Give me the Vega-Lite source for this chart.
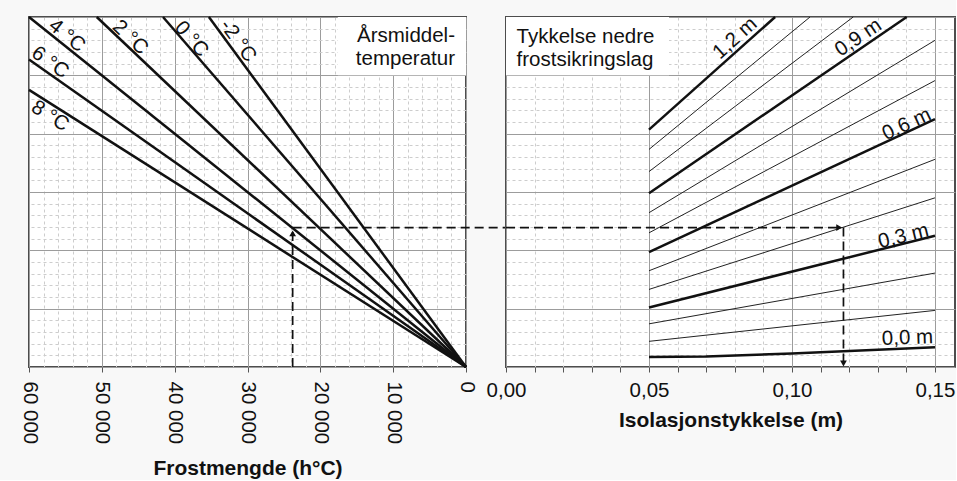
{
  "$schema": "https://vega.github.io/schema/vega-lite/v6.json",
  "background": "#f8f8f8",
  "padding": {"left": 17, "top": 11, "right": 0, "bottom": 0},
  "spacing": 40,
  "bounds": "flush",
  "datasets": {
    "tempLines": [
      {"t": "8", "x": 0, "y": 0}, {"t": "8", "x": 60000, "y": 4.75},
      {"t": "6", "x": 0, "y": 0}, {"t": "6", "x": 60000, "y": 5.27},
      {"t": "4", "x": 0, "y": 0}, {"t": "4", "x": 60000, "y": 6},
      {"t": "2", "x": 0, "y": 0}, {"t": "2", "x": 50700, "y": 6},
      {"t": "0", "x": 0, "y": 0}, {"t": "0", "x": 41600, "y": 6},
      {"t": "-2", "x": 0, "y": 0}, {"t": "-2", "x": 35300, "y": 6}
    ],
    "tempLabels": [
      {"label": "4 °C", "x": 54800, "y": 5.68},
      {"label": "2 °C", "x": 46100, "y": 5.65},
      {"label": "0 °C", "x": 37700, "y": 5.62},
      {"label": "-2 °C", "x": 31300, "y": 5.59},
      {"label": "6 °C", "x": 57100, "y": 5.22},
      {"label": "8 °C", "x": 57100, "y": 4.30}
    ],
    "leftDash": [
      {"seg": "v", "x": 23800, "y": 0}, {"seg": "v", "x": 23800, "y": 2.33},
      {"seg": "h", "x": 23800, "y": 2.39}, {"seg": "h", "x": -5500, "y": 2.39}
    ],
    "thick": [
      {"d": 0.0, "x": 0.05, "y": 0.17}, {"d": 0.0, "x": 0.07, "y": 0.18}, {"d": 0.0, "x": 0.10, "y": 0.23}, {"d": 0.0, "x": 0.15, "y": 0.34},
      {"d": 0.1, "x": 0.05, "y": 0.44}, {"d": 0.1, "x": 0.15, "y": 0.97},
      {"d": 0.2, "x": 0.05, "y": 0.74}, {"d": 0.2, "x": 0.15, "y": 1.61},
      {"d": 0.3, "x": 0.05, "y": 1.02}, {"d": 0.3, "x": 0.15, "y": 2.25},
      {"d": 0.4, "x": 0.05, "y": 1.33}, {"d": 0.4, "x": 0.15, "y": 2.90},
      {"d": 0.5, "x": 0.05, "y": 1.65}, {"d": 0.5, "x": 0.15, "y": 3.56},
      {"d": 0.6, "x": 0.05, "y": 1.97}, {"d": 0.6, "x": 0.15, "y": 4.25},
      {"d": 0.7, "x": 0.05, "y": 2.30}, {"d": 0.7, "x": 0.15, "y": 4.91},
      {"d": 0.8, "x": 0.05, "y": 2.645}, {"d": 0.8, "x": 0.15, "y": 5.60},
      {"d": 0.9, "x": 0.05, "y": 2.98}, {"d": 0.9, "x": 0.1401, "y": 6},
      {"d": 1.0, "x": 0.05, "y": 3.35}, {"d": 1.0, "x": 0.1214, "y": 6},
      {"d": 1.1, "x": 0.05, "y": 3.73}, {"d": 1.1, "x": 0.1063, "y": 6},
      {"d": 1.2, "x": 0.05, "y": 4.07}, {"d": 1.2, "x": 0.0941, "y": 6}
    ],
    "thickLabels": [
      {"label": "1,2 m", "x": 0.0801, "y": 5.635},
      {"label": "0,9 m", "x": 0.1232, "y": 5.646},
      {"label": "0,6 m", "x": 0.1401, "y": 4.16},
      {"label": "0,3 m", "x": 0.139, "y": 2.24},
      {"label": "0,0 m", "x": 0.1404, "y": 0.497}
    ],
    "rightDash": [
      {"seg": "h", "x": 0, "y": 2.39}, {"seg": "h", "x": 0.1165, "y": 2.39},
      {"seg": "v", "x": 0.118, "y": 2.39}, {"seg": "v", "x": 0.118, "y": 0.1}
    ]
  },
  "hconcat": [
    {
      "width": 437,
      "height": 350,
      "encoding": {
        "x": {
          "field": "x", "type": "quantitative",
          "scale": {"domain": [0, 60000], "reverse": true, "nice": false, "zero": false},
          "axis": {
            "title": "Frostmengde (h°C)",
            "values": [0,2000,4000,6000,8000,10000,12000,14000,16000,18000,20000,22000,24000,26000,28000,30000,32000,34000,36000,38000,40000,42000,44000,46000,48000,50000,52000,54000,56000,58000,60000],
            "labelExpr": "datum.value % 10000 === 0 ? replace(format(datum.value, ','), ',', ' ') : ''",
            "labelAngle": 90,
            "labelAlign": "left",
            "labelBaseline": "middle",
            "labelPadding": 9,
            "titlePadding": 14,
            "tickOpacity": {"condition": {"test": "datum.value % 10000 === 0", "value": 1}, "value": 0},
            "gridDash": {"condition": {"test": "datum.value % 10000 === 0", "value": []}, "value": [3, 3]},
            "gridColor": {"condition": {"test": "datum.value % 10000 === 0", "value": "#9c9c9c"}, "value": "#cdcdcd"}
          }
        },
        "y": {
          "field": "y", "type": "quantitative",
          "scale": {"domain": [0, 6], "nice": false, "zero": false},
          "axis": {
            "title": null, "labels": false, "ticks": false, "domain": false,
            "values": [0,0.2,0.4,0.6,0.8,1,1.2,1.4,1.6,1.8,2,2.2,2.4,2.6,2.8,3,3.2,3.4,3.6,3.8,4,4.2,4.4,4.6,4.8,5,5.2,5.4,5.6,5.8,6],
            "gridDash": {"condition": {"test": "abs(datum.value - round(datum.value)) < 0.01", "value": []}, "value": [3, 3]},
            "gridColor": {"condition": {"test": "abs(datum.value - round(datum.value)) < 0.01", "value": "#9c9c9c"}, "value": "#cdcdcd"}
          }
        }
      },
      "layer": [
        {
          "data": {"values": [{"x": 17600, "x2": 0, "y": 5, "y2": 6}]},
          "mark": {"type": "rect", "fill": "white", "stroke": null},
          "encoding": {"x2": {"field": "x2"}, "y2": {"field": "y2"}}
        },
        {
          "data": {"name": "tempLines"},
          "mark": {"type": "line", "color": "#111111", "strokeWidth": 2.5},
          "encoding": {"detail": {"field": "t"}}
        },
        {
          "data": {"name": "leftDash"},
          "mark": {"type": "line", "color": "#111111", "strokeWidth": 1.7, "strokeDash": [9, 5]},
          "encoding": {"detail": {"field": "seg"}}
        },
        {
          "data": {"values": [{"x": 23800, "y": 2.29}]},
          "mark": {"type": "point", "shape": "triangle-up", "filled": true, "color": "#111111", "size": 45, "opacity": 1}
        },
        {
          "data": {"name": "tempLabels"},
          "transform": [{"filter": "datum.label === '4 °C'"}],
          "mark": {"type": "text", "angle": 38.7, "fontSize": 20.5, "color": "#111111"},
          "encoding": {"text": {"field": "label"}}
        },
        {
          "data": {"name": "tempLabels"},
          "transform": [{"filter": "datum.label === '2 °C'"}],
          "mark": {"type": "text", "angle": 43.5, "fontSize": 20.5, "color": "#111111"},
          "encoding": {"text": {"field": "label"}}
        },
        {
          "data": {"name": "tempLabels"},
          "transform": [{"filter": "datum.label === '0 °C'"}],
          "mark": {"type": "text", "angle": 49.1, "fontSize": 20.5, "color": "#111111"},
          "encoding": {"text": {"field": "label"}}
        },
        {
          "data": {"name": "tempLabels"},
          "transform": [{"filter": "datum.label === '-2 °C'"}],
          "mark": {"type": "text", "angle": 53.7, "fontSize": 20.5, "color": "#111111"},
          "encoding": {"text": {"field": "label"}}
        },
        {
          "data": {"name": "tempLabels"},
          "transform": [{"filter": "datum.label === '6 °C'"}],
          "mark": {"type": "text", "angle": 35.2, "fontSize": 20.5, "color": "#111111"},
          "encoding": {"text": {"field": "label"}}
        },
        {
          "data": {"name": "tempLabels"},
          "transform": [{"filter": "datum.label === '8 °C'"}],
          "mark": {"type": "text", "angle": 32.4, "fontSize": 20.5, "color": "#111111"},
          "encoding": {"text": {"field": "label"}}
        },
        {
          "data": {"values": [{"label": "Årsmiddel-\ntemperatur", "x": 1510, "y": 5.572}]},
          "mark": {"type": "text", "align": "right", "baseline": "alphabetic", "lineBreak": "\n", "lineHeight": 23.5, "fontSize": 20.5, "color": "#111111"},
          "encoding": {"text": {"field": "label"}}
        }
      ]
    },
    {
      "width": 449,
      "height": 350,
      "encoding": {
        "x": {
          "field": "x", "type": "quantitative",
          "scale": {"domain": [0, 0.157], "nice": false, "zero": false},
          "axis": {
            "title": "Isolasjonstykkelse (m)",
            "values": [0,0.01,0.02,0.03,0.04,0.05,0.06,0.07,0.08,0.09,0.10,0.11,0.12,0.13,0.14,0.15],
            "labelExpr": "round(datum.value * 100) % 5 === 0 ? replace(format(datum.value, '.2f'), '.', ',') : ''",
            "labelAngle": 0,
            "labelPadding": 8,
            "titlePadding": 9,
            "gridDash": {"condition": {"test": "round(datum.value * 100) % 5 === 0", "value": []}, "value": [3, 3]},
            "gridColor": {"condition": {"test": "round(datum.value * 100) % 5 === 0", "value": "#9c9c9c"}, "value": "#cdcdcd"}
          }
        },
        "y": {
          "field": "y", "type": "quantitative",
          "scale": {"domain": [0, 6], "nice": false, "zero": false},
          "axis": {
            "title": null, "labels": false, "ticks": false, "domain": false,
            "values": [0,0.2,0.4,0.6,0.8,1,1.2,1.4,1.6,1.8,2,2.2,2.4,2.6,2.8,3,3.2,3.4,3.6,3.8,4,4.2,4.4,4.6,4.8,5,5.2,5.4,5.6,5.8,6],
            "gridDash": {"condition": {"test": "abs(datum.value - round(datum.value)) < 0.01", "value": []}, "value": [3, 3]},
            "gridColor": {"condition": {"test": "abs(datum.value - round(datum.value)) < 0.01", "value": "#9c9c9c"}, "value": "#cdcdcd"}
          }
        }
      },
      "layer": [
        {
          "data": {"values": [{"x": 0, "x2": 0.057, "y": 5, "y2": 6}]},
          "mark": {"type": "rect", "fill": "white", "stroke": null},
          "encoding": {"x2": {"field": "x2"}, "y2": {"field": "y2"}}
        },
        {
          "data": {"name": "thick"},
          "transform": [{"filter": "round(datum.d * 10) % 3 !== 0"}],
          "mark": {"type": "line", "color": "#222222", "strokeWidth": 1},
          "encoding": {"detail": {"field": "d"}}
        },
        {
          "data": {"name": "thick"},
          "transform": [{"filter": "round(datum.d * 10) % 3 === 0"}],
          "mark": {"type": "line", "color": "#111111", "strokeWidth": 2.5},
          "encoding": {"detail": {"field": "d"}}
        },
        {
          "data": {"name": "rightDash"},
          "mark": {"type": "line", "color": "#111111", "strokeWidth": 1.7, "strokeDash": [9, 5]},
          "encoding": {"detail": {"field": "seg"}}
        },
        {
          "data": {"values": [{"x": 0.1165, "y": 2.39}]},
          "mark": {"type": "point", "shape": "triangle-right", "filled": true, "color": "#111111", "size": 45, "opacity": 1}
        },
        {
          "data": {"values": [{"x": 0.118, "y": 0.06}]},
          "mark": {"type": "point", "shape": "triangle-down", "filled": true, "color": "#111111", "size": 45, "opacity": 1}
        },
        {
          "data": {"name": "thickLabels"},
          "transform": [{"filter": "datum.label === '1,2 m'"}],
          "mark": {"type": "text", "angle": -42, "fontSize": 20.5, "color": "#111111"},
          "encoding": {"text": {"field": "label"}}
        },
        {
          "data": {"name": "thickLabels"},
          "transform": [{"filter": "datum.label === '0,9 m'"}],
          "mark": {"type": "text", "angle": -34, "fontSize": 20.5, "color": "#111111"},
          "encoding": {"text": {"field": "label"}}
        },
        {
          "data": {"name": "thickLabels"},
          "transform": [{"filter": "datum.label === '0,6 m'"}],
          "mark": {"type": "text", "angle": -25, "fontSize": 20.5, "color": "#111111"},
          "encoding": {"text": {"field": "label"}}
        },
        {
          "data": {"name": "thickLabels"},
          "transform": [{"filter": "datum.label === '0,3 m'"}],
          "mark": {"type": "text", "angle": -14, "fontSize": 20.5, "color": "#111111"},
          "encoding": {"text": {"field": "label"}}
        },
        {
          "data": {"name": "thickLabels"},
          "transform": [{"filter": "datum.label === '0,0 m'"}],
          "mark": {"type": "text", "angle": -2, "fontSize": 20.5, "color": "#111111"},
          "encoding": {"text": {"field": "label"}}
        },
        {
          "data": {"values": [{"label": "Tykkelse nedre\nfrostsikringslag", "x": 0.0037, "y": 5.56}]},
          "mark": {"type": "text", "align": "left", "baseline": "alphabetic", "lineBreak": "\n", "lineHeight": 23.5, "fontSize": 20.5, "color": "#111111"},
          "encoding": {"text": {"field": "label"}}
        }
      ]
    }
  ],
  "config": {
    "font": "Liberation Sans",
    "view": {"stroke": "#4d4d4d", "strokeWidth": 2, "fill": "#ffffff"},
    "axis": {
      "grid": true,
      "gridWidth": 1,
      "domain": false,
      "tickSize": 5,
      "tickColor": "#555555",
      "labelFontSize": 20.5,
      "labelColor": "#111111",
      "labelOverlap": false,
      "labelFlush": false,
      "labelBound": false,
      "titleFontSize": 21,
      "titleFontWeight": "bold",
      "titleColor": "#111111"
    }
  }
}
